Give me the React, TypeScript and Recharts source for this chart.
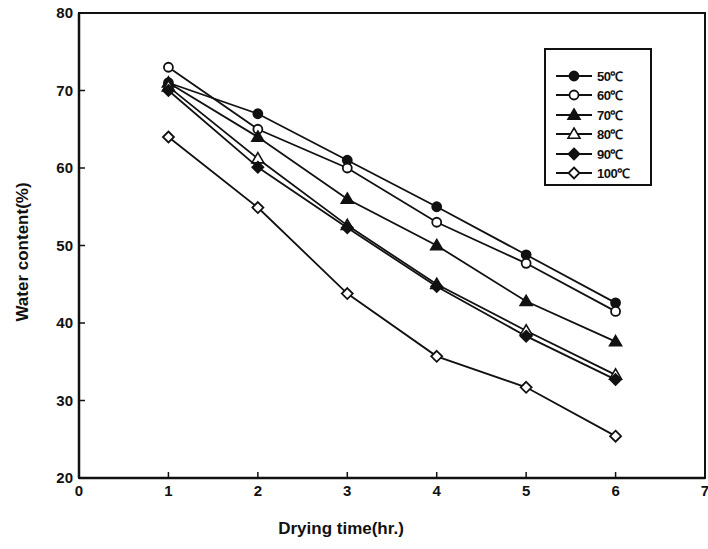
import { LineChart, Line, XAxis, YAxis, Legend, ReferenceArea } from 'recharts';

// drying time (hr.)
const hours = [1, 2, 3, 4, 5, 6];

// water content (%) per drying temperature
const t50 = [71, 67, 61, 55, 48.8, 42.6];
const t60 = [73, 65, 60, 53, 47.7, 41.5];
const t70 = [71, 64, 56, 50, 42.8, 37.6];
const t80 = [70.5, 61.2, 52.6, 45, 39, 33.3];
const t90 = [70, 60.1, 52.3, 44.7, 38.3, 32.7];
const t100 = [64, 54.9, 43.8, 35.7, 31.7, 25.4];

const xTicks = [0, 1, 2, 3, 4, 5, 6, 7];
const yTicks = [20, 30, 40, 50, 60, 70, 80];

type Shape = 'circle' | 'triangle' | 'diamond';

const SERIES: { key: string; name: string; values: number[]; shape: Shape; filled: boolean }[] = [
  { key: 't50', name: '50℃', values: t50, shape: 'circle', filled: true },
  { key: 't60', name: '60℃', values: t60, shape: 'circle', filled: false },
  { key: 't70', name: '70℃', values: t70, shape: 'triangle', filled: true },
  { key: 't80', name: '80℃', values: t80, shape: 'triangle', filled: false },
  { key: 't90', name: '90℃', values: t90, shape: 'diamond', filled: true },
  { key: 't100', name: '100℃', values: t100, shape: 'diamond', filled: false },
];

const data = hours.map((h, i) => {
  const row: Record<string, number> = { hour: h };
  SERIES.forEach((s) => {
    row[s.key] = s.values[i];
  });
  return row;
});

const FONT = '"Liberation Sans", Arial, sans-serif';
const INK = '#111';

const Marker = ({ cx, cy, shape, filled }: { cx: number; cy: number; shape: Shape; filled: boolean }) => {
  const fill = filled ? INK : '#fff';
  if (shape === 'circle') {
    return <circle cx={cx} cy={cy} r={4.5} fill={fill} stroke={INK} strokeWidth={1.8} />;
  }
  if (shape === 'triangle') {
    const r = 6;
    return (
      <polygon
        points={`${cx},${cy - r} ${cx + r},${cy + r * 0.7} ${cx - r},${cy + r * 0.7}`}
        fill={fill}
        stroke={INK}
        strokeWidth={1.6}
      />
    );
  }
  const r = 5.5;
  return (
    <polygon
      points={`${cx},${cy - r} ${cx + r},${cy} ${cx},${cy + r} ${cx - r},${cy}`}
      fill={fill}
      stroke={INK}
      strokeWidth={1.8}
    />
  );
};

const makeDot = (shape: Shape, filled: boolean) => (props: any) => (
  <Marker key={`dot-${props.index}`} cx={props.cx} cy={props.cy} shape={shape} filled={filled} />
);

const renderLegend = () => (
  <div
    style={{
      border: `2px solid ${INK}`,
      background: '#fff',
      padding: '16px 6px 8px 8px',
      boxSizing: 'border-box',
      width: 108,
      height: 138,
    }}
  >
    {SERIES.map((s) => (
      <div key={s.key} style={{ display: 'flex', alignItems: 'center', height: 19.5 }}>
        <svg width={40} height={16}>
          <line x1={2} y1={8} x2={38} y2={8} stroke={INK} strokeWidth={2} />
          <Marker cx={20} cy={8} shape={s.shape} filled={s.filled} />
        </svg>
        <span style={{ fontFamily: FONT, fontWeight: 'bold', fontSize: 13, color: INK, marginLeft: 3, letterSpacing: -0.5 }}>
          {s.name}
        </span>
      </div>
    ))}
  </div>
);

const tickStyle = { fontFamily: FONT, fontWeight: 'bold', fontSize: 15, fill: INK };

export default function App() {
  return (
    <div style={{ position: 'absolute', left: 0, top: 0, width: 708, height: 549, background: '#fff' }}>
      <LineChart width={708} height={549} data={data} margin={{ top: 13, right: 3, bottom: 0, left: 0 }}>
        <ReferenceArea x1={0} x2={7} y1={20} y2={80} fill="none" stroke={INK} strokeWidth={2} ifOverflow="visible" />
        <XAxis
          dataKey="hour"
          type="number"
          domain={[0, 7]}
          ticks={xTicks}
          interval={0}
          height={71}
          axisLine={{ stroke: INK, strokeWidth: 2.5 }}
          tickLine={{ stroke: INK, strokeWidth: 1.5 }}
          tickSize={-6}
          tickMargin={13}
          tick={tickStyle}
          label={{
            content: () => (
              <text x={341} y={534} textAnchor="middle" fontFamily={FONT} fontWeight="bold" fontSize={17} fill={INK}>
                Drying time(hr.)
              </text>
            ),
          }}
        />
        <YAxis
          type="number"
          domain={[20, 80]}
          ticks={yTicks}
          interval={0}
          width={79}
          axisLine={{ stroke: INK, strokeWidth: 2.5 }}
          tickLine={{ stroke: INK, strokeWidth: 1.5 }}
          tickSize={-6}
          tickMargin={12}
          tick={tickStyle}
          label={{
            content: () => (
              <text
                x={22}
                y={252}
                transform="rotate(-90 22 252)"
                textAnchor="middle"
                dominantBaseline="central"
                fontFamily={FONT}
                fontWeight="bold"
                fontSize={17}
                fill={INK}
              >
                Water content(%)
              </text>
            ),
          }}
        />
        <Legend
          layout="vertical"
          verticalAlign="middle"
          align="center"
          wrapperStyle={{ position: 'absolute', left: 544, top: 48, width: 108 }}
          content={renderLegend}
        />
        {SERIES.map((s) => (
          <Line
            key={s.key}
            dataKey={s.key}
            name={s.name}
            type="linear"
            stroke={INK}
            strokeWidth={1.8}
            dot={makeDot(s.shape, s.filled)}
            activeDot={false}
            isAnimationActive={false}
          />
        ))}
      </LineChart>
    </div>
  );
}
